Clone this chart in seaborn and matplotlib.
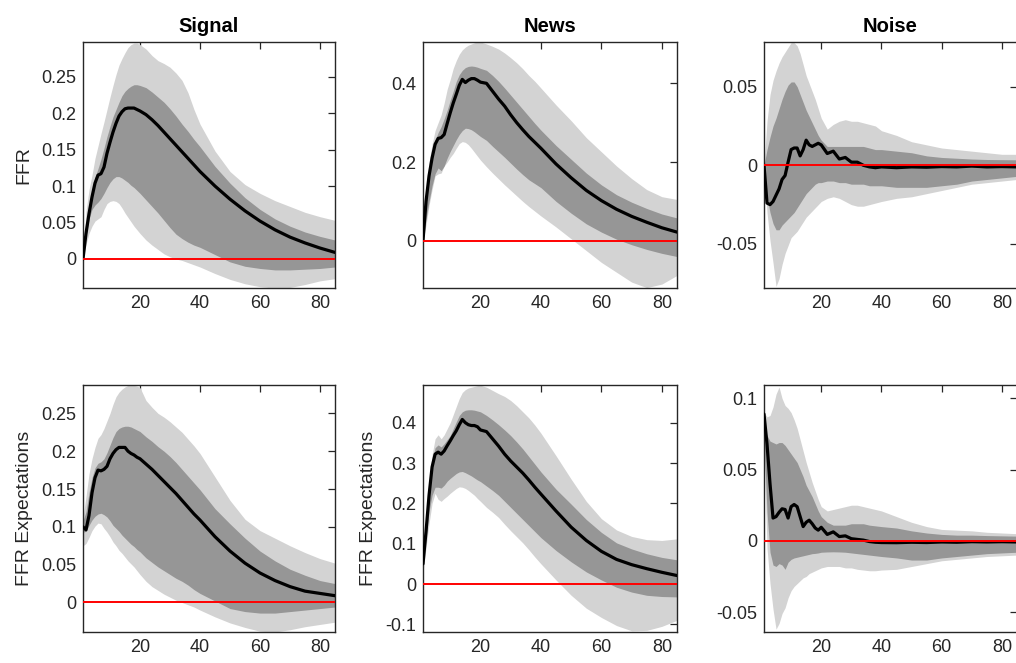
import matplotlib
matplotlib.use("Agg")
import matplotlib.pyplot as plt
import seaborn as sns
import pandas as pd
from matplotlib.ticker import FuncFormatter, FixedLocator

sns.set_style("white")
plt.rcParams['font.family'] = ['Liberation Sans', 'DejaVu Sans']
plt.rcParams['axes.unicode_minus'] = False

# ---------------- data ----------------
horizons = [1, 2, 3, 4, 5, 6, 7, 8, 9, 10, 11, 12, 13, 14, 15, 16, 17, 18, 19, 20,
            22, 24, 26, 28, 30, 32, 34, 36, 38, 40,
            45, 50, 55, 60, 65, 70, 75, 80, 85]
titles = ["Signal", "News", "Noise"]
ylabels = ["FFR", "FFR Expectations"]
xtick_values = [20, 40, 60, 80]

# FFR / Signal
ffr_signal_med = [0, 0.035, 0.062, 0.085, 0.104, 0.115, 0.117, 0.126, 0.145, 0.16, 0.174, 0.186, 0.196, 0.202, 0.206, 0.207, 0.207, 0.207, 0.205, 0.203,
                  0.198, 0.191, 0.183, 0.174, 0.165, 0.156, 0.147, 0.138, 0.129, 0.12,
                  0.1, 0.082, 0.066, 0.052, 0.04, 0.03, 0.022, 0.015, 0.009]
ffr_signal_hi90 = [0, 0.065, 0.095, 0.115, 0.138, 0.155, 0.172, 0.188, 0.205, 0.222, 0.238, 0.253, 0.266, 0.275, 0.283, 0.29, 0.294, 0.296, 0.296, 0.294,
                   0.288, 0.279, 0.272, 0.268, 0.263, 0.255, 0.245, 0.228, 0.205, 0.185,
                   0.148, 0.12, 0.102, 0.09, 0.08, 0.072, 0.064, 0.058, 0.053]
ffr_signal_hi68 = [0, 0.04, 0.07, 0.095, 0.112, 0.124, 0.137, 0.152, 0.168, 0.182, 0.195, 0.205, 0.215, 0.224, 0.23, 0.234, 0.237, 0.239, 0.239, 0.238,
                   0.235, 0.229, 0.222, 0.215, 0.206, 0.196, 0.185, 0.175, 0.164, 0.154,
                   0.127, 0.104, 0.084, 0.068, 0.055, 0.045, 0.037, 0.031, 0.026]
ffr_signal_lo68 = [0, 0.03, 0.055, 0.068, 0.074, 0.078, 0.083, 0.09, 0.098, 0.105, 0.11, 0.113, 0.113, 0.111, 0.108, 0.105, 0.101, 0.098, 0.094, 0.09,
                   0.081, 0.072, 0.063, 0.053, 0.043, 0.034, 0.028, 0.023, 0.019, 0.016,
                   0.006, -0.004, -0.01, -0.013, -0.015, -0.015, -0.014, -0.013, -0.011]
ffr_signal_lo90 = [0, 0.02, 0.035, 0.045, 0.052, 0.055, 0.058, 0.068, 0.076, 0.079, 0.08, 0.079, 0.076, 0.07, 0.063, 0.057, 0.051, 0.045, 0.04, 0.035,
                   0.026, 0.019, 0.013, 0.007, 0.003, 0.0, -0.002, -0.005, -0.008, -0.011,
                   -0.02, -0.028, -0.034, -0.038, -0.04, -0.039, -0.035, -0.03, -0.027]

# FFR / News
ffr_news_med = [0, 0.1, 0.165, 0.21, 0.245, 0.26, 0.262, 0.27, 0.298, 0.325, 0.35, 0.372, 0.395, 0.41, 0.402, 0.408, 0.412, 0.412, 0.408, 0.403,
                0.4, 0.38, 0.36, 0.342, 0.32, 0.3, 0.282, 0.265, 0.25, 0.235,
                0.195, 0.16, 0.128, 0.102, 0.08, 0.062, 0.047, 0.033, 0.022]
ffr_news_hi90 = [0, 0.13, 0.2, 0.245, 0.28, 0.3, 0.32, 0.35, 0.385, 0.41, 0.438, 0.458, 0.474, 0.485, 0.492, 0.497, 0.5, 0.503, 0.505, 0.505,
                 0.5, 0.494, 0.487, 0.477, 0.465, 0.452, 0.437, 0.42, 0.405, 0.388,
                 0.345, 0.305, 0.262, 0.226, 0.19, 0.158, 0.13, 0.112, 0.105]
ffr_news_hi68 = [0, 0.11, 0.18, 0.225, 0.255, 0.275, 0.29, 0.31, 0.332, 0.357, 0.38, 0.405, 0.422, 0.433, 0.44, 0.443, 0.444, 0.443, 0.441, 0.438,
                 0.433, 0.42, 0.405, 0.388, 0.37, 0.352, 0.334, 0.316, 0.298, 0.281,
                 0.242, 0.207, 0.172, 0.142, 0.117, 0.098, 0.082, 0.068, 0.058]
ffr_news_lo68 = [0, 0.055, 0.1, 0.14, 0.17, 0.185, 0.178, 0.19, 0.21, 0.227, 0.242, 0.257, 0.27, 0.28, 0.286, 0.285, 0.282, 0.277, 0.271, 0.265,
                 0.255, 0.24, 0.226, 0.212, 0.197, 0.182, 0.168, 0.155, 0.145, 0.135,
                 0.1, 0.07, 0.043, 0.022, 0.004, -0.01, -0.022, -0.032, -0.04]
ffr_news_lo90 = [0, 0.04, 0.09, 0.13, 0.165, 0.17, 0.172, 0.19, 0.2, 0.212, 0.222, 0.235, 0.247, 0.252, 0.25, 0.244, 0.235, 0.225, 0.215, 0.205,
                 0.188, 0.172, 0.157, 0.142, 0.128, 0.114, 0.1, 0.087, 0.075, 0.063,
                 0.035, 0.005, -0.025, -0.055, -0.08, -0.105, -0.119, -0.11, -0.088]

# FFR / Noise
ffr_noise_med = [0, -0.024, -0.025, -0.023, -0.019, -0.015, -0.009, -0.0065, 0.002, 0.01, 0.011, 0.011, 0.006, 0.01, 0.016, 0.013, 0.012, 0.013, 0.014, 0.013,
                 0.0075, 0.009, 0.004, 0.005, 0.002, 0.002, 0.0, -0.001, -0.0015, -0.001,
                 -0.0015, -0.001, -0.0012, -0.0008, -0.001, -0.0005, -0.001, -0.0008, -0.001]
ffr_noise_hi90 = [0, 0.028, 0.045, 0.054, 0.06, 0.065, 0.069, 0.072, 0.075, 0.078, 0.078, 0.076, 0.071, 0.064, 0.057, 0.052, 0.047, 0.042, 0.036, 0.03,
                  0.023, 0.026, 0.028, 0.029, 0.028, 0.028, 0.027, 0.026, 0.025, 0.022,
                  0.019, 0.015, 0.013, 0.011, 0.01, 0.009, 0.008, 0.007, 0.007]
ffr_noise_hi68 = [0, 0.01, 0.018, 0.025, 0.03, 0.036, 0.042, 0.047, 0.051, 0.053, 0.053, 0.05, 0.045, 0.04, 0.035, 0.031, 0.027, 0.023, 0.019, 0.016,
                  0.012, 0.012, 0.012, 0.012, 0.012, 0.012, 0.012, 0.011, 0.01, 0.01,
                  0.009, 0.008, 0.006, 0.005, 0.0045, 0.004, 0.0037, 0.0036, 0.0035]
ffr_noise_lo68 = [0, -0.02, -0.03, -0.037, -0.041, -0.041, -0.038, -0.036, -0.034, -0.032, -0.03, -0.027, -0.024, -0.021, -0.018, -0.016, -0.014, -0.012, -0.011, -0.011,
                  -0.01, -0.01, -0.011, -0.011, -0.012, -0.012, -0.012, -0.013, -0.013, -0.013,
                  -0.014, -0.014, -0.014, -0.013, -0.012, -0.01, -0.009, -0.008, -0.007]
ffr_noise_lo90 = [0, -0.03, -0.048, -0.062, -0.077, -0.072, -0.063, -0.056, -0.051, -0.046, -0.044, -0.042, -0.039, -0.036, -0.033, -0.031, -0.029, -0.027, -0.025, -0.023,
                  -0.021, -0.02, -0.021, -0.023, -0.025, -0.026, -0.026, -0.025, -0.024, -0.023,
                  -0.021, -0.02, -0.018, -0.016, -0.014, -0.012, -0.011, -0.01, -0.009]

# FFR Expectations / Signal
exp_signal_med = [0.1, 0.096, 0.115, 0.145, 0.165, 0.175, 0.174, 0.176, 0.18, 0.19, 0.197, 0.202, 0.205, 0.205, 0.205, 0.2, 0.197, 0.195, 0.192, 0.19,
                  0.183, 0.176, 0.168, 0.16, 0.152, 0.144, 0.135, 0.126, 0.117, 0.109,
                  0.087, 0.068, 0.052, 0.039, 0.029, 0.021, 0.015, 0.012, 0.009]
exp_signal_hi90 = [0.113, 0.14, 0.17, 0.19, 0.205, 0.217, 0.222, 0.23, 0.24, 0.25, 0.262, 0.272, 0.278, 0.282, 0.285, 0.287, 0.287, 0.287, 0.286, 0.284,
                   0.267, 0.258, 0.25, 0.245, 0.239, 0.232, 0.225, 0.216, 0.207, 0.197,
                   0.166, 0.135, 0.11, 0.095, 0.085, 0.075, 0.066, 0.058, 0.052]
exp_signal_hi68 = [0.108, 0.12, 0.145, 0.165, 0.178, 0.184, 0.186, 0.19, 0.198, 0.208, 0.218, 0.226, 0.23, 0.232, 0.233, 0.233, 0.232, 0.23, 0.228, 0.226,
                   0.219, 0.213, 0.206, 0.2, 0.193, 0.185, 0.176, 0.167, 0.158, 0.149,
                   0.124, 0.104, 0.085, 0.068, 0.055, 0.044, 0.036, 0.029, 0.025]
exp_signal_lo68 = [0.093, 0.094, 0.102, 0.109, 0.114, 0.117, 0.118, 0.116, 0.113, 0.108, 0.102, 0.098, 0.094, 0.089, 0.085, 0.081, 0.077, 0.074, 0.07, 0.067,
                   0.059, 0.053, 0.047, 0.042, 0.037, 0.032, 0.028, 0.023, 0.017, 0.012,
                   0.002, -0.008, -0.012, -0.014, -0.014, -0.012, -0.01, -0.008, -0.006]
exp_signal_lo90 = [0.075, 0.078, 0.086, 0.095, 0.101, 0.105, 0.104, 0.098, 0.093, 0.087, 0.08, 0.075, 0.069, 0.065, 0.06, 0.055, 0.051, 0.047, 0.042, 0.037,
                   0.028, 0.021, 0.016, 0.011, 0.007, 0.003, 0.0, -0.003, -0.006, -0.01,
                   -0.019, -0.027, -0.033, -0.038, -0.039, -0.036, -0.032, -0.029, -0.026]

# FFR Expectations / News
exp_news_med = [0.05, 0.13, 0.22, 0.29, 0.322, 0.327, 0.322, 0.33, 0.343, 0.355, 0.368, 0.38, 0.395, 0.408, 0.4, 0.395, 0.393, 0.393, 0.39, 0.382,
                0.378, 0.36, 0.342, 0.322, 0.305, 0.29, 0.275, 0.258, 0.24, 0.223,
                0.181, 0.141, 0.108, 0.081, 0.061, 0.048, 0.038, 0.029, 0.021]
exp_news_hi90 = [0.06, 0.16, 0.25, 0.32, 0.36, 0.37, 0.36, 0.37, 0.385, 0.4, 0.42, 0.44, 0.46, 0.475, 0.482, 0.486, 0.488, 0.49, 0.492, 0.493,
                 0.488, 0.48, 0.472, 0.465, 0.455, 0.442, 0.427, 0.412, 0.394, 0.374,
                 0.318, 0.26, 0.205, 0.162, 0.134, 0.118, 0.11, 0.108, 0.112]
exp_news_hi68 = [0.055, 0.15, 0.24, 0.305, 0.338, 0.345, 0.34, 0.348, 0.358, 0.368, 0.385, 0.402, 0.418, 0.427, 0.431, 0.432, 0.432, 0.431, 0.429, 0.427,
                 0.418, 0.407, 0.395, 0.382, 0.368, 0.352, 0.335, 0.316, 0.297, 0.278,
                 0.235, 0.198, 0.16, 0.128, 0.102, 0.087, 0.075, 0.066, 0.06]
exp_news_lo68 = [0.043, 0.11, 0.18, 0.22, 0.24, 0.24, 0.238, 0.245, 0.255, 0.262, 0.268, 0.274, 0.278, 0.279, 0.276, 0.272, 0.268, 0.263, 0.258, 0.254,
                 0.243, 0.232, 0.22, 0.205, 0.19, 0.175, 0.16, 0.145, 0.13, 0.115,
                 0.083, 0.055, 0.03, 0.01, -0.008, -0.02, -0.028, -0.031, -0.032]
exp_news_lo90 = [0.03, 0.09, 0.15, 0.2, 0.225, 0.21, 0.205, 0.212, 0.218, 0.225, 0.231, 0.237, 0.241, 0.24, 0.237, 0.232, 0.226, 0.22, 0.212, 0.205,
                 0.19, 0.178, 0.165, 0.148, 0.132, 0.117, 0.102, 0.085, 0.067, 0.05,
                 0.01, -0.028, -0.06, -0.083, -0.103, -0.116, -0.115, -0.105, -0.09]

# FFR Expectations / Noise
exp_noise_med = [0.089, 0.068, 0.04, 0.016, 0.017, 0.02, 0.0225, 0.022, 0.016, 0.024, 0.0255, 0.024, 0.017, 0.01, 0.013, 0.0145, 0.012, 0.009, 0.0075, 0.0095,
                 0.0045, 0.0063, 0.003, 0.0035, 0.0015, 0.001, 0.0005, -0.0005, -0.001, -0.0012,
                 -0.0013, -0.001, -0.0012, -0.0008, -0.001, -0.0006, -0.0008, -0.0006, -0.0008]
exp_noise_hi90 = [0.09, 0.087, 0.088, 0.094, 0.103, 0.108, 0.1, 0.095, 0.093, 0.09, 0.085, 0.079, 0.071, 0.063, 0.055, 0.048, 0.041, 0.035, 0.029, 0.024,
                  0.021, 0.022, 0.023, 0.024, 0.025, 0.025, 0.024, 0.023, 0.022, 0.021,
                  0.017, 0.013, 0.01, 0.008, 0.0075, 0.007, 0.006, 0.0055, 0.005]
exp_noise_hi68 = [0.08, 0.074, 0.07, 0.069, 0.068, 0.069, 0.069, 0.067, 0.064, 0.061, 0.058, 0.055, 0.05, 0.045, 0.039, 0.035, 0.031, 0.026, 0.021, 0.017,
                  0.013, 0.011, 0.011, 0.011, 0.012, 0.012, 0.012, 0.011, 0.0105, 0.01,
                  0.009, 0.007, 0.0055, 0.0045, 0.004, 0.004, 0.0037, 0.0035, 0.0033]
exp_noise_lo68 = [0.072, 0.02, -0.008, -0.017, -0.018, -0.016, -0.017, -0.02, -0.015, -0.013, -0.012, -0.0115, -0.011, -0.0105, -0.01, -0.0095, -0.009, -0.0088, -0.0085, -0.008,
                  -0.0078, -0.0077, -0.0078, -0.008, -0.0085, -0.009, -0.0095, -0.01, -0.0105, -0.011,
                  -0.012, -0.0135, -0.0135, -0.012, -0.011, -0.01, -0.009, -0.0085, -0.008]
exp_noise_lo90 = [0.065, -0.005, -0.03, -0.048, -0.062, -0.058, -0.051, -0.047, -0.04, -0.035, -0.032, -0.03, -0.028, -0.026, -0.025, -0.023, -0.022, -0.021, -0.02, -0.019,
                  -0.018, -0.018, -0.018, -0.019, -0.019, -0.02, -0.0205, -0.021, -0.021, -0.0205,
                  -0.02, -0.018, -0.016, -0.014, -0.013, -0.012, -0.011, -0.0105, -0.01]

# ---------------- layout / style ----------------
W, H = 1016, 663
fig = plt.figure(figsize=(W / 100, H / 100), dpi=100)

col_px = [(83, 335), (423, 677), (764, 1017)]
row_px = [(42, 288), (385, 632)]

panels = [
    (0, 0, ffr_signal_lo90, ffr_signal_lo68, ffr_signal_med, ffr_signal_hi68, ffr_signal_hi90,
     (-0.0398, 0.2976), [0, 0.05, 0.1, 0.15, 0.2, 0.25]),
    (0, 1, ffr_news_lo90, ffr_news_lo68, ffr_news_med, ffr_news_hi68, ffr_news_hi90,
     (-0.12, 0.505), [0, 0.2, 0.4]),
    (0, 2, ffr_noise_lo90, ffr_noise_lo68, ffr_noise_med, ffr_noise_hi68, ffr_noise_hi90,
     (-0.078, 0.0784), [-0.05, 0, 0.05]),
    (1, 0, exp_signal_lo90, exp_signal_lo68, exp_signal_med, exp_signal_hi68, exp_signal_hi90,
     (-0.039, 0.2875), [0, 0.05, 0.1, 0.15, 0.2, 0.25]),
    (1, 1, exp_news_lo90, exp_news_lo68, exp_news_med, exp_news_hi68, exp_news_hi90,
     (-0.119, 0.4935), [-0.1, 0, 0.1, 0.2, 0.3, 0.4]),
    (1, 2, exp_noise_lo90, exp_noise_lo68, exp_noise_med, exp_noise_hi68, exp_noise_hi90,
     (-0.064, 0.1094), [-0.05, 0, 0.05, 0.1]),
]

light = '#d3d3d3'
dark = '#969696'
axcol = '#262626'
fmt = FuncFormatter(lambda v, p: f"{v:g}")

for r, c, lo90, lo68, med, hi68, hi90, ylim, yt in panels:
    x0, x1 = col_px[c]
    y0, y1 = row_px[r]
    ax = fig.add_axes([x0 / W, 1 - y1 / H, (x1 - x0) / W, (y1 - y0) / H])
    ax.fill_between(horizons, lo90, hi90, color=light, lw=0, zorder=1)
    ax.fill_between(horizons, lo68, hi68, color=dark, lw=0, zorder=2)
    df = pd.DataFrame({"h": horizons, "v": med})
    sns.lineplot(data=df, x="h", y="v", ax=ax, color='black', lw=2.3, zorder=3)
    ax.axhline(0, color='#ff0000', lw=1.4, zorder=4)
    ax.set_xlim(1, 85)
    ax.set_ylim(*ylim)
    ax.xaxis.set_major_locator(FixedLocator(xtick_values))
    ax.yaxis.set_major_locator(FixedLocator(yt))
    ax.yaxis.set_major_formatter(fmt)
    ax.tick_params(direction='in', length=5, width=0.9, top=True, right=True,
                   labelsize=13, colors=axcol, pad=5)
    for s in ax.spines.values():
        s.set_color(axcol)
        s.set_linewidth(1.0)
        s.set_visible(True)
    ax.set_xlabel("")
    ax.set_ylabel("")
    if r == 0:
        ax.set_title(titles[c], fontsize=14.5, fontweight='bold', pad=7, color='black')
    if c == 0 or (r == 1 and c == 1):
        ax.set_ylabel(ylabels[r], fontsize=14, color=axcol, labelpad=6)

fig.savefig("out.png", dpi=100)
